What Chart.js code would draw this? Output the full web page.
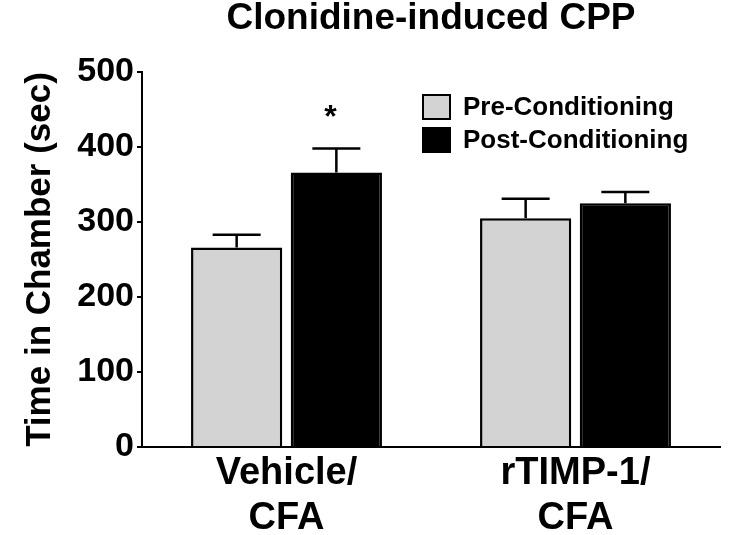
<!DOCTYPE html>
<html><head><meta charset="utf-8">
<script src="https://cdn.jsdelivr.net/npm/chart.js@4/dist/chart.umd.min.js"></script>
<style>html,body{margin:0;padding:0;background:#fff}</style>
</head><body>
<canvas id="c" width="739" height="535"></canvas>
<script>
const categories = [['Vehicle/', 'CFA'], ['rTIMP-1/', 'CFA']];
const seriesNames = ['Pre-Conditioning', 'Post-Conditioning'];
const preValues = [266, 305];
const postValues = [366, 325];
const preErrors = [17, 26];
const postErrors = [32, 15];
const postMarks = ['*', ''];
const yTicks = [0, 100, 200, 300, 400, 500];
const titleText = 'Clonidine-induced CPP';
const yTitle = 'Time in Chamber (sec)';

const FONT = '"Liberation Sans", Arial, Helvetica, sans-serif';
const GRAY = '#d3d3d3';

const errorBars = {
  id: 'errorBars',
  afterDatasetsDraw(chart) {
    const ctx = chart.ctx, y = chart.scales.y;
    chart.data.datasets.forEach((ds, di) => {
      const meta = chart.getDatasetMeta(di);
      meta.data.forEach((el, i) => {
        const top = y.getPixelForValue(ds.data[i] + ds.errors[i]);
        ctx.save();
        ctx.strokeStyle = '#000';
        ctx.lineWidth = 2.5;
        ctx.beginPath();
        ctx.moveTo(el.x, el.y);
        ctx.lineTo(el.x, top);
        ctx.moveTo(el.x - 24, top);
        ctx.lineTo(el.x + 24, top);
        ctx.stroke();
        if (ds.marks && ds.marks[i]) {
          ctx.fillStyle = '#000';
          ctx.font = 'bold 32px ' + FONT;
          ctx.textAlign = 'center';
          ctx.textBaseline = 'middle';
          ctx.fillText(ds.marks[i], el.x - 6, top - 30);
        }
        ctx.restore();
      });
    });
  }
};

const customLegend = {
  id: 'customLegend',
  afterDraw(chart) {
    const ctx = chart.ctx;
    const x0 = 423, rows = [107, 140];
    chart.data.datasets.forEach((ds, i) => {
      const cy = rows[i];
      ctx.save();
      ctx.fillStyle = ds.backgroundColor;
      ctx.fillRect(x0, cy - 12, 27, 24);
      ctx.strokeStyle = '#000';
      ctx.lineWidth = 2;
      ctx.strokeRect(x0, cy - 12, 27, 24);
      ctx.fillStyle = '#000';
      ctx.font = 'bold 26px ' + FONT;
      ctx.textAlign = 'left';
      ctx.textBaseline = 'middle';
      ctx.fillText(ds.label, 463, cy + 1);
      ctx.restore();
    });
  }
};

new Chart(document.getElementById('c'), {
  type: 'bar',
  data: {
    labels: categories,
    datasets: [
      { label: seriesNames[0], data: preValues, errors: preErrors,
        backgroundColor: GRAY, borderColor: '#000', borderWidth: 2.5 },
      { label: seriesNames[1], data: postValues, errors: postErrors, marks: postMarks,
        backgroundColor: '#000', borderColor: '#000', borderWidth: 2.5 }
    ]
  },
  options: {
    responsive: false,
    animation: false,
    devicePixelRatio: 1,
    layout: { padding: { top: 0, right: 19, left: 0, bottom: 0 } },
    categoryPercentage: 0.69,
    barPercentage: 0.915,
    plugins: {
      legend: { display: false },
      tooltip: { enabled: false },
      title: {
        display: true, text: titleText, fullSize: false, color: '#000',
        font: { family: FONT, size: 37, weight: 'bold', lineHeight: 1.0 },
        padding: { top: 0, bottom: 35 }
      }
    },
    scales: {
      x: {
        grid: { display: false, drawTicks: false },
        border: { display: true, color: '#000', width: 2 },
        ticks: { color: '#000', padding: 4, font: { family: FONT, size: 38, weight: 'bold', lineHeight: 1.18 } },
        afterFit(s) { s.height = 88; }
      },
      y: {
        min: 0, max: 500,
        afterBuildTicks(s) { s.ticks = yTicks.map(v => ({ value: v })); },
        grid: { drawOnChartArea: false, drawTicks: true, tickLength: 5, color: '#000', lineWidth: 2 },
        border: { display: true, color: '#000', width: 2 },
        ticks: { color: '#000', padding: 3, font: { family: FONT, size: 34, weight: 'bold' } },
        title: { display: true, text: yTitle, color: '#000', padding: { top: 19, bottom: 0 },
          font: { family: FONT, size: 35, weight: 'bold' } },
        afterFit(s) { s.width = 142; }
      }
    }
  },
  plugins: [errorBars, customLegend]
});
</script>
</body></html>
